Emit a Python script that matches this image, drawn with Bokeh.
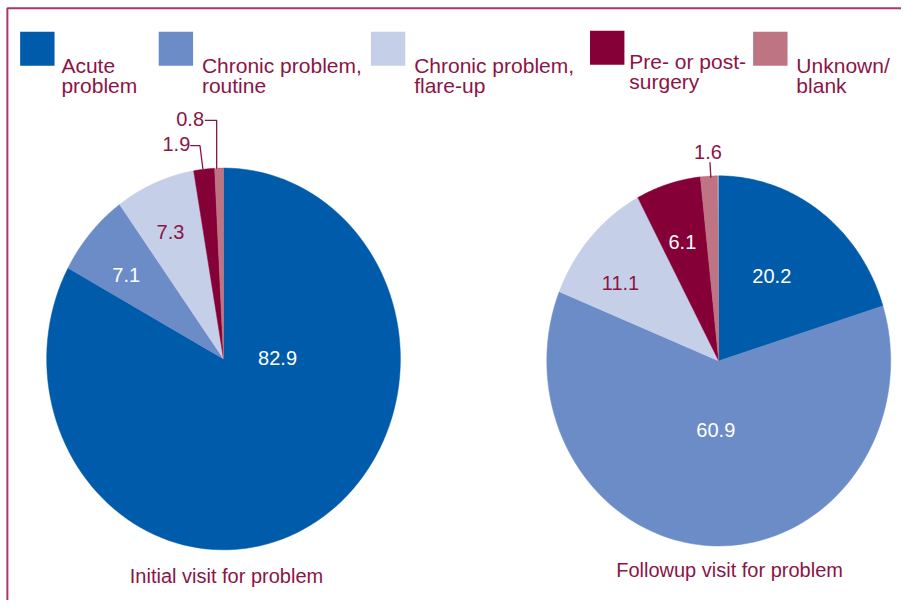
import numpy as np
from bokeh.plotting import figure
from bokeh.models import Range1d
from bokeh.core.properties import value
from bokeh.embed import file_html
from bokeh.resources import INLINE

# ---- data ----
categories = ["Acute problem", "Chronic problem, routine", "Chronic problem, flare-up",
              "Pre- or post-surgery", "Unknown/blank"]
legend_lines = [["Acute", "problem"], ["Chronic problem,", "routine"],
                ["Chronic problem,", "flare-up"], ["Pre- or post-", "surgery"],
                ["Unknown/", "blank"]]
initial_values = [82.9, 7.1, 7.3, 1.9, 0.8]
followup_values = [20.2, 60.9, 11.1, 6.1, 1.6]
pie_titles = ["Initial visit for problem", "Followup visit for problem"]

colors = ["#005BAA", "#6B8CC7", "#C5CFE8", "#860038", "#BE7483"]
TEXT = "#8C1446"
FONT = "Liberation Sans"

p = figure(width=901, height=600, output_backend="svg", toolbar_location=None,
           x_range=Range1d(0, 917), y_range=Range1d(616, 0),
           x_axis_location=None, y_axis_location=None, min_border=0)
p.grid.visible = False
p.outline_line_color = None
p.background_fill_color = "white"
p.border_fill_color = "white"

# border (left + top)
p.line(x=[7, 7, 917], y=[616, 8, 8], line_color="#B03468", line_width=2)


def draw_pie(vals, cx, cy, rx, ry):
    total = 100.0
    cum = np.concatenate([[0], np.cumsum(vals)]) / total * 2 * np.pi
    xs, ys = [], []
    for i in range(len(vals)):
        t = np.linspace(cum[i], cum[i + 1], 120)
        xs.append(list(np.concatenate([[cx], cx + rx * np.sin(t)])))
        ys.append(list(np.concatenate([[cy], cy - ry * np.cos(t)])))
    p.patches(xs=xs, ys=ys, fill_color=colors[:len(vals)],
              line_color=colors[:len(vals)], line_width=0.5)


# pie geometry (layout)
pies = [
    dict(vals=initial_values, cx=227, cy=368, rx=180, ry=196,
         label_pos=[(282, 367), (128, 282), (173, 238), (179, 147), (193, 122)],
         label_col=["white", "white", TEXT, TEXT, TEXT],
         title_pos=(230, 591)),
    dict(vals=followup_values, cx=731, cy=370, rx=175, ry=190,
         label_pos=[(785, 283), (728, 441), (631, 290), (694, 248), (720, 156)],
         label_col=["white", "white", TEXT, "white", TEXT],
         title_pos=(742, 585)),
]

for pie, title in zip(pies, pie_titles):
    draw_pie(pie["vals"], pie["cx"], pie["cy"], pie["rx"], pie["ry"])
    lx = [pp[0] for pp in pie["label_pos"]]
    ly = [pp[1] for pp in pie["label_pos"]]
    p.text(x=lx, y=ly, text=[f"{v:.1f}" for v in pie["vals"]],
           text_color=pie["label_col"], text_font=value(FONT),
           text_font_size="20px", text_align="center", text_baseline="middle")
    p.text(x=[pie["title_pos"][0]], y=[pie["title_pos"][1]], text=[title],
           text_color=TEXT, text_font=value(FONT), text_font_size="20px",
           text_align="center", text_baseline="middle")

# leader lines
p.multi_line(xs=[[193, 203, 206], [208, 220, 220], [722, 723]],
             ys=[[149, 149, 173], [123, 123, 173], [166, 182]],
             line_color=TEXT, line_width=1.3)

# legend
sq_x = [20, 161, 377, 600, 766]
sq_y = [32, 32, 32, 31, 32]
tx_x = [62, 205, 421, 640, 810]
tx_y = [67, 67, 67, 63, 67]
p.rect(x=[x + 17.5 for x in sq_x], y=[y + 17.5 for y in sq_y], width=35, height=35,
       fill_color=colors, line_color=None)
for lines, x, y in zip(legend_lines, tx_x, tx_y):
    p.text(x=[x, x], y=[y, y + 20], text=lines, text_color=TEXT,
           text_font=value(FONT), text_font_size="21px",
           text_align="left", text_baseline="alphabetic")

open("out.html", "w").write(file_html(p, INLINE))
